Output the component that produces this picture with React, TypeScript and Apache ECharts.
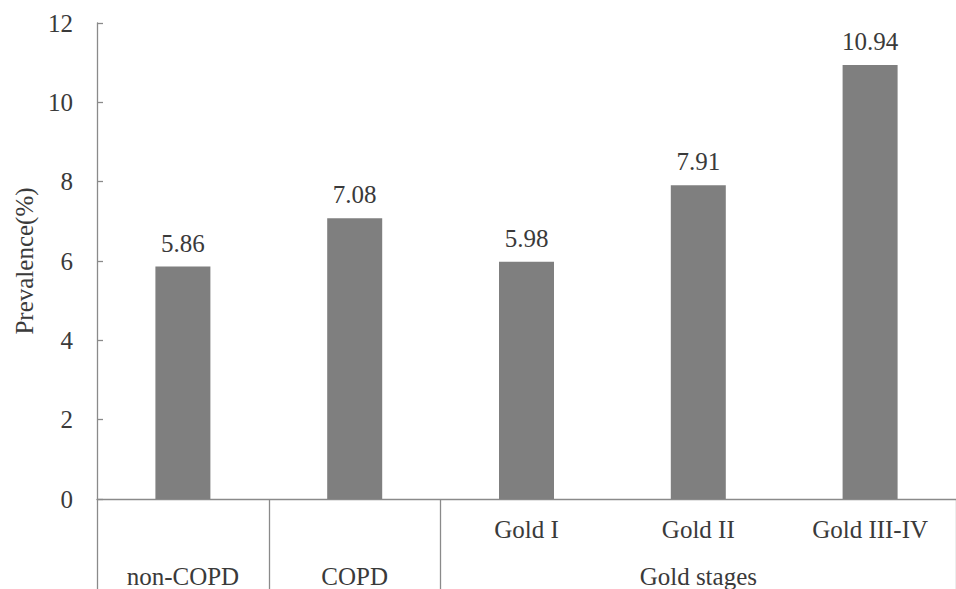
import React, { useEffect, useRef } from "react";
import * as echarts from "echarts";

const categories = ["non-COPD", "COPD", "Gold I", "Gold II", "Gold III-IV"];
const stageLabels = ["", "", "Gold I", "Gold II", "Gold III-IV"];
const groupLabels = ["non-COPD", "COPD", "", "Gold stages", ""];
const prevalence = [5.86, 7.08, 5.98, 7.91, 10.94];
const separatorIndexes = [0, 1, 2];

const FONT = "Liberation Serif";
const TEXT = "#3a3a3a";
const AXIS = "#8a8a8a";
const FS = 25;

export default function App() {
  const ref = useRef<HTMLDivElement>(null);
  useEffect(() => {
    if (!ref.current) return;
    const chart = echarts.init(ref.current, undefined, { renderer: "svg" });
    chart.setOption({
      animation: false,
      textStyle: { fontFamily: FONT },
      grid: { left: 97, right: -7, top: 23, bottom: 90, containLabel: false },
      xAxis: [
        {
          type: "category",
          data: categories,
          position: "bottom",
          axisLine: { show: true, lineStyle: { color: AXIS, width: 1.3 } },
          axisTick: {
            show: true,
            length: 90,
            interval: (index: number) => separatorIndexes.includes(index),
            lineStyle: { color: AXIS, width: 1.3 },
          },
          axisLabel: {
            interval: 0,
            margin: 18,
            fontSize: FS,
            color: TEXT,
            fontFamily: FONT,
            formatter: (_v: string, i: number) => stageLabels[i],
          },
        },
        {
          type: "category",
          data: groupLabels,
          position: "bottom",
          gridIndex: 0,
          axisLine: { show: false },
          axisTick: { show: false },
          axisLabel: {
            interval: 0,
            margin: 65,
            fontSize: FS,
            color: TEXT,
            fontFamily: FONT,
          },
        },
      ],
      yAxis: {
        type: "value",
        min: 0,
        max: 12,
        interval: 2,
        name: "Prevalence(%)",
        nameLocation: "middle",
        nameGap: 59,
        nameTextStyle: { fontSize: FS, color: TEXT, fontFamily: FONT },
        axisLine: { show: true, lineStyle: { color: AXIS, width: 1.3 } },
        axisTick: { show: true, inside: true, length: 6, lineStyle: { color: AXIS, width: 1.3 } },
        splitLine: { show: false },
        axisLabel: { fontSize: FS, color: TEXT, margin: 24, fontFamily: FONT },
      },
      series: [
        {
          type: "bar",
          data: prevalence,
          xAxisIndex: 0,
          barWidth: 55,
          itemStyle: { color: "#7f7f7f" },
          label: {
            show: true,
            position: "top",
            distance: 11,
            fontSize: FS,
            color: TEXT,
            fontFamily: FONT,
            formatter: (p: any) => p.value.toFixed(2),
          },
        },
      ],
    });
    return () => chart.dispose();
  }, []);
  return (
    <div
      ref={ref}
      style={{ position: "fixed", left: 0, top: 0, width: 956, height: 589, background: "#fff" }}
    />
  );
}
